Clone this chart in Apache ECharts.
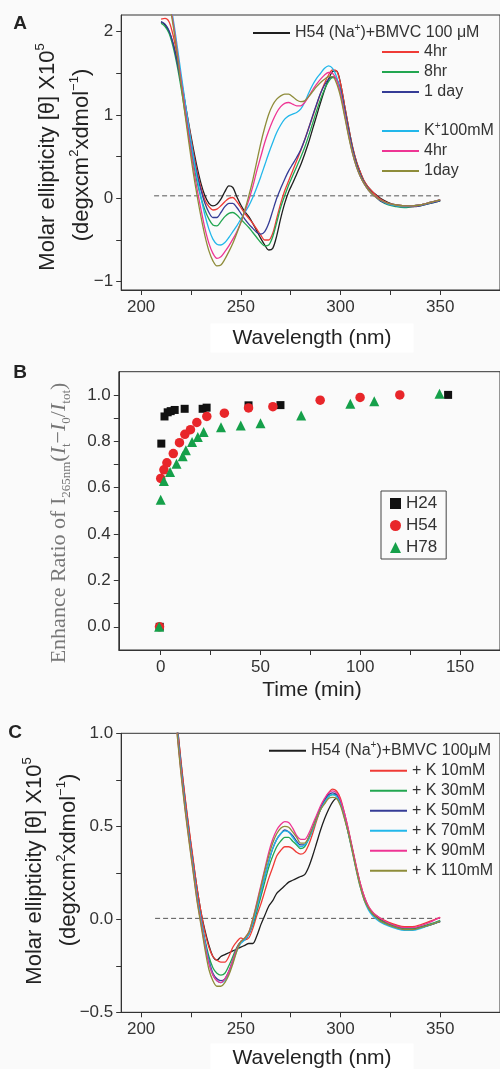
<!DOCTYPE html>
<html><head><meta charset="utf-8">
<script src="https://cdn.jsdelivr.net/npm/echarts@6/dist/echarts.min.js"></script>
<style>html,body{margin:0;padding:0;background:#fafafa}#c{width:500px;height:1069px}</style>
</head><body><div id="c"></div>
<script>
// ---------- Panel A : CD spectra (time course) ----------
const wlA = [210,212,214,216,218,220,222,224,226,228,230,232,234,236,238,240,242,244,246,248,250,252,254,256,258,260,262,264,266,268,270,272,274,276,278,280,282,284,286,288,290,292,294,296,298,300,302,304,306,308,310,312,314,316,318,320,324,328,332,336,340,345,350];
const aNa = [2.12,2.08,2.0,1.86,1.66,1.42,1.15,0.88,0.62,0.38, 0.18,0.03,-0.06,-0.09,-0.07,-0.01,0.08,0.15,0.13,0.02, -0.08,-0.16,-0.22,-0.3,-0.39,-0.48,-0.56,-0.62,-0.6,-0.45, -0.24,-0.06,0.08,0.18,0.29,0.4,0.53,0.67,0.83,0.99, 1.15,1.3,1.43,1.52,1.53,1.38,1.12,0.86,0.62,0.44, 0.31,0.2,0.13,0.08,0.04,0.0, -0.05,-0.08,-0.09,-0.09,-0.08,-0.05,-0.02];
const aNa4hr = [2.15,2.16,2.12,1.96,1.72,1.45,1.15,0.86,0.58,0.33, 0.13,-0.02,-0.1,-0.14,-0.13,-0.09,-0.04,0.0,0.01,-0.04, -0.11,-0.18,-0.24,-0.3,-0.37,-0.44,-0.5,-0.5,-0.42,-0.24, -0.06,0.09,0.21,0.33,0.45,0.57,0.7,0.84,0.98,1.12, 1.26,1.38,1.48,1.54,1.53,1.38,1.12,0.86,0.62,0.44, 0.31,0.2,0.13,0.08,0.03,-0.01, -0.06,-0.09,-0.1,-0.1,-0.08,-0.05,-0.02];
const aNa8hr = [2.1,2.06,1.98,1.82,1.6,1.33,1.03,0.73,0.45,0.2, 0.01,-0.14,-0.25,-0.32,-0.33,-0.28,-0.22,-0.18,-0.17,-0.2, -0.25,-0.3,-0.35,-0.41,-0.47,-0.53,-0.57,-0.56,-0.46,-0.29, -0.11,0.03,0.16,0.27,0.38,0.49,0.61,0.75,0.9,1.05, 1.19,1.31,1.4,1.45,1.43,1.3,1.07,0.82,0.59,0.41, 0.28,0.18,0.11,0.05,0.01,-0.03, -0.08,-0.1,-0.11,-0.1,-0.09,-0.06,-0.03];
const aNa1day = [2.12,2.09,2.01,1.86,1.64,1.38,1.09,0.8,0.53,0.29, 0.1,-0.06,-0.17,-0.23,-0.23,-0.17,-0.1,-0.06,-0.06,-0.11, -0.18,-0.25,-0.31,-0.36,-0.41,-0.43,-0.4,-0.3,-0.15,0.0, 0.12,0.23,0.33,0.41,0.49,0.58,0.7,0.84,0.99,1.13, 1.26,1.36,1.43,1.46,1.43,1.3,1.07,0.82,0.59,0.41, 0.28,0.18,0.11,0.05,0.01,-0.03, -0.07,-0.09,-0.1,-0.1,-0.09,-0.06,-0.03];
const aK = [2.5,2.45,2.38,2.16,1.84,1.5,1.17,0.84,0.53,0.25, 0.01,-0.2,-0.37,-0.49,-0.55,-0.56,-0.53,-0.47,-0.4,-0.33, -0.25,-0.17,-0.09,0.01,0.13,0.26,0.4,0.54,0.67,0.79, 0.88,0.95,0.99,1.01,1.03,1.07,1.15,1.26,1.36,1.44, 1.5,1.56,1.59,1.56,1.46,1.27,1.02,0.77,0.55,0.38, 0.26,0.17,0.1,0.05,0.01,-0.02, -0.07,-0.09,-0.1,-0.09,-0.08,-0.05,-0.02];
const aK4hr = [2.5,2.45,2.36,2.12,1.78,1.42,1.07,0.72,0.4,0.12, -0.13,-0.36,-0.54,-0.66,-0.72,-0.7,-0.64,-0.57,-0.49,-0.4, -0.29,-0.16,-0.02,0.14,0.33,0.5,0.67,0.81,0.93,1.03, 1.1,1.14,1.15,1.13,1.11,1.11,1.15,1.22,1.3,1.37, 1.43,1.48,1.51,1.5,1.42,1.26,1.02,0.77,0.55,0.38, 0.26,0.17,0.1,0.05,0.01,-0.02, -0.06,-0.08,-0.09,-0.09,-0.08,-0.05,-0.02];
const aK1day = [2.5,2.45,2.34,2.08,1.74,1.37,1.01,0.66,0.33,0.04, -0.22,-0.45,-0.63,-0.75,-0.81,-0.8,-0.73,-0.64,-0.54,-0.42, -0.29,-0.14,0.03,0.22,0.44,0.66,0.85,1.01,1.12,1.19, 1.23,1.25,1.25,1.22,1.18,1.16,1.17,1.22,1.28,1.34, 1.39,1.43,1.46,1.46,1.38,1.22,0.99,0.75,0.54,0.38, 0.26,0.17,0.1,0.05,0.01,-0.02, -0.06,-0.08,-0.09,-0.09,-0.08,-0.05,-0.02];
const zeroA = [[206.5,0.03],[350,0.03]];

// ---------- Panel B : enhancement ratio vs time ----------
const bH24 = [[-0.5,0],[0.3,0.79],[1.9,0.907],[3.5,0.925],[5,0.93],[7,0.935],[12,0.94],[21,0.94],[23,0.945],[44,0.955],[60,0.956],[144,1.0]];
const bH54 = [[-0.6,0],[0,0.64],[1.6,0.677],[3.1,0.707],[6.3,0.747],[9.4,0.794],[12.1,0.83],[14.9,0.85],[18.1,0.881],[23.1,0.907],[31.9,0.921],[44,0.944],[56.2,0.949],[79.9,0.977],[99.9,0.989],[119.8,1.0]];
const bH78 = [[-0.8,0],[0,0.548],[1.6,0.629],[4.7,0.667],[7.9,0.703],[11,0.735],[12.6,0.761],[15.7,0.797],[18.6,0.818],[21.5,0.84],[30.2,0.861],[40.1,0.868],[50,0.878],[70.4,0.911],[95,0.962],[107,0.973],[139.7,1.005]];

// ---------- Panel C : CD spectra (K+ titration) ----------
const wlC = [214,216,218,220,222,224,226,228,230,232,234,236,238,240,242,244,246,248,250,252,254,256,258,260,262,264,266,268,270,272,274,276,278,280,282,284,286,288,290,292,294,296,298,300,302,304,306,308,310,312,314,316,318,320,324,328,332,336,340,345,350];
const cNa = [1.6,1.32,1.06,0.84,0.65,0.48,0.32,0.17,0.04,-0.06, -0.14,-0.2,-0.22,-0.2,-0.19,-0.18,-0.17,-0.16,-0.15,-0.14, -0.13,-0.13,-0.09,-0.03,0.02,0.07,0.1,0.14,0.16,0.18, 0.2,0.21,0.22,0.23,0.24,0.28,0.34,0.41,0.48,0.54, 0.59,0.63,0.65,0.62,0.55,0.46,0.37,0.27,0.18,0.11, 0.06,0.03,0.015,0.0, -0.02,-0.035,-0.048,-0.052,-0.045,-0.03,-0.012];
const cK10 = [1.55,1.3,1.06,0.85,0.66,0.49,0.33,0.17,0.04,-0.07, -0.15,-0.2,-0.22,-0.23,-0.23,-0.2,-0.15,-0.12,-0.1,-0.11, -0.1,-0.05,0.02,0.08,0.15,0.22,0.28,0.34,0.37,0.39, 0.39,0.38,0.36,0.35,0.36,0.4,0.46,0.53,0.59,0.64, 0.68,0.7,0.69,0.65,0.57,0.48,0.38,0.28,0.19,0.12, 0.07,0.04,0.02,0.005, -0.015,-0.03,-0.04,-0.04,-0.03,-0.01,0.01];
const cK30 = [1.52,1.27,1.03,0.81,0.62,0.45,0.29,0.13,0.0,-0.11, -0.2,-0.26,-0.29,-0.3,-0.29,-0.25,-0.2,-0.15,-0.12,-0.11, -0.08,-0.03,0.04,0.12,0.2,0.28,0.34,0.39,0.42,0.44, 0.44,0.42,0.4,0.38,0.39,0.43,0.48,0.54,0.59,0.63, 0.66,0.67,0.67,0.63,0.56,0.47,0.37,0.27,0.18,0.11, 0.06,0.03,0.01,-0.005, -0.025,-0.04,-0.05,-0.05,-0.04,-0.025,-0.005];
const cK50 = [1.52,1.27,1.03,0.81,0.62,0.45,0.29,0.13,0.0,-0.12, -0.22,-0.29,-0.32,-0.33,-0.32,-0.28,-0.22,-0.16,-0.12,-0.11, -0.08,-0.02,0.06,0.14,0.23,0.31,0.38,0.43,0.46,0.48, 0.47,0.45,0.42,0.4,0.4,0.44,0.49,0.55,0.6,0.64, 0.67,0.68,0.67,0.63,0.56,0.47,0.37,0.27,0.18,0.11, 0.06,0.03,0.01,-0.01, -0.03,-0.045,-0.055,-0.055,-0.045,-0.03,-0.01];
const cK70 = [1.52,1.27,1.03,0.81,0.62,0.45,0.29,0.13,0.0,-0.12, -0.23,-0.3,-0.33,-0.34,-0.33,-0.29,-0.23,-0.17,-0.13,-0.11, -0.08,-0.02,0.06,0.14,0.23,0.31,0.38,0.43,0.46,0.475, 0.47,0.44,0.41,0.39,0.4,0.43,0.48,0.54,0.59,0.63, 0.66,0.67,0.66,0.62,0.55,0.46,0.36,0.26,0.17,0.1, 0.05,0.02,0.0,-0.015, -0.035,-0.05,-0.06,-0.06,-0.05,-0.03,-0.01];
const cK90 = [1.5,1.25,1.01,0.79,0.6,0.43,0.27,0.11,-0.02,-0.14, -0.24,-0.3,-0.33,-0.34,-0.32,-0.28,-0.22,-0.16,-0.12,-0.1, -0.07,0.0,0.09,0.18,0.27,0.36,0.43,0.48,0.51,0.525, 0.52,0.49,0.45,0.43,0.43,0.46,0.51,0.56,0.61,0.65, 0.68,0.69,0.68,0.64,0.57,0.48,0.38,0.28,0.19,0.12, 0.07,0.04,0.02,0.005, -0.02,-0.035,-0.045,-0.045,-0.035,-0.015,0.01];
const cK110 = [1.5,1.25,1.0,0.78,0.59,0.42,0.26,0.1,-0.03,-0.16, -0.27,-0.33,-0.36,-0.36,-0.34,-0.3,-0.24,-0.17,-0.12,-0.1, -0.07,0.0,0.08,0.17,0.26,0.34,0.41,0.46,0.49,0.5, 0.495,0.47,0.44,0.41,0.41,0.44,0.49,0.54,0.59,0.62, 0.65,0.655,0.65,0.61,0.54,0.46,0.36,0.26,0.17,0.1, 0.06,0.03,0.01,-0.01, -0.03,-0.045,-0.055,-0.055,-0.045,-0.03,-0.01];
const zeroC = [[207,0.005],[350,0.005]];

// ---------- tick values ----------
const wlLabels = [200,250,300,350];
const wlTicks = [200,225,250,275,300,325,350];
const aYLabels = [-1,0,1,2];
const aYTicks = [-1,-0.5,0,0.5,1,1.5,2];
const bXLabels = [0,50,100,150];
const bXTicks = [0,25,50,75,100,125,150];
const bYLabels = [0,0.2,0.4,0.6,0.8,1.0];
const bYTicks = [0,0.1,0.2,0.3,0.4,0.5,0.6,0.7,0.8,0.9,1.0];
const cYLabels = [-0.5,0,0.5,1.0];
const cYTicks = [-0.5,-0.25,0,0.25,0.5,0.75,1.0];

// ---------- legend texts ----------
const legendText = {
  na: 'H54 (Na{sup|+})+BMVC 100 μM', na4: '4hr', na8: '8hr', na1d: '1 day',
  k: 'K{sup|+}100mM', k4: '4hr', k1d: '1day',
  cna: 'H54 (Na{sup|+})+BMVC 100μM', c10: '+ K 10mM', c30: '+ K 30mM', c50: '+ K 50mM',
  c70: '+ K 70mM', c90: '+ K 90mM', c110: '+ K 110mM'
};

const FONT = '"Liberation Sans", Arial, sans-serif';
const SERIF = '"Liberation Serif", "Times New Roman", serif';
const C = {black:'#1e1e1e', red:'#ef3b36', green:'#22a650', blue:'#353c96', cyan:'#22b7ea', magenta:'#ee3594', olive:'#8e8c3a'};
const mfmt = s => s.replace('-', '\u2212');
const pairs = (xs, ys) => xs.map((x, i) => [x, ys[i]]);

function xAxis(gi, min, max, labels, ticks) {
  return {type:'value', gridIndex:gi, min, max, splitLine:{show:false},
    axisLine:{show:true, onZero:false, lineStyle:{color:'#333', width:1}},
    axisTick:{show:true, length:5, customValues:ticks, lineStyle:{color:'#333', width:1}},
    axisLabel:{customValues:labels, fontSize:17, color:'#333', fontFamily:FONT, margin:9,
      formatter: v => mfmt(String(v))}};
}
function yAxis(gi, min, max, labels, ticks, dec) {
  return {type:'value', gridIndex:gi, min, max, splitLine:{show:false},
    axisLine:{show:true, onZero:false, lineStyle:{color:'#333', width:1}},
    axisTick:{show:true, length:5, customValues:ticks, lineStyle:{color:'#333', width:1}},
    axisLabel:{customValues:labels, fontSize:17, color:'#333', fontFamily:FONT, margin:8,
      formatter: v => mfmt(Number(v).toFixed(dec))}};
}
function lineS(name, xi, xs, ys, color) {
  return {type:'line', name, xAxisIndex:xi, yAxisIndex:xi, data:pairs(xs, ys), symbol:'none', showSymbol:false,
    smooth:0.3, clip:true, lineStyle:{color, width:1.3}, itemStyle:{color}, animation:false};
}
function dashS(xi, data) {
  return {type:'line', xAxisIndex:xi, yAxisIndex:xi, data, symbol:'none', silent:true, clip:true,
    lineStyle:{color:'#555', width:1, type:[5,3]}, animation:false};
}
const legTS = {fontSize:16, color:'#333', fontFamily:FONT, lineHeight:20,
  rich:{sup:{fontSize:10, lineHeight:20, verticalAlign:'top', fontFamily:FONT, color:'#333'}}};
function legLine(names, left, top) {
  return {data:names, left, top, orient:'vertical', icon:'rect', itemWidth:37, itemHeight:2, itemGap:0,
    padding:0, selectedMode:false, formatter: n => legendText[n], textStyle:legTS};
}

const supRich = {
  m:{fontSize:22, fontFamily:FONT, fill:'#222', lineHeight:28},
  s:{fontSize:13, fontFamily:FONT, fill:'#222', lineHeight:28, verticalAlign:'top'}
};
const ylab1 = '{m|Molar ellipticity [θ] X10}{s|5}';
const ylab2 = '{m|(degxcm}{s|2}{m|xdmol}{s|\u22121}{m|)}';
const bRich = {
  r:{fontSize:22, fontFamily:SERIF, fill:'#777', lineHeight:28},
  i:{fontSize:22, fontFamily:SERIF, fontStyle:'italic', fill:'#777', lineHeight:28},
  b:{fontSize:13, fontFamily:SERIF, fill:'#777', lineHeight:28, verticalAlign:'bottom'}
};
const bLab = '{r|Enhance Ratio of I}{b|265nm}{r|(}{i|I}{b|t}{r|\u2212}{i|I}{b|0}{r|/}{i|I}{b|tot}{r|)}';

function rotText(x, y, text, rich) {
  return {type:'text', x, y, rotation:Math.PI/2, silent:true,
    style:{text, rich, align:'center', verticalAlign:'middle'}};
}
function plainText(x, y, text, size, bold, bg) {
  const st = {text, fontSize:size, fontFamily:FONT, fontWeight: bold ? 'bold' : 'normal', fill:'#222',
    align:'center', verticalAlign:'middle'};
  if (bg) { st.backgroundColor = '#ffffff'; st.padding = [4, 22, 4, 22]; }
  return {type:'text', x, y, silent:true, style:st};
}

const chart = echarts.init(document.getElementById('c'), null, {renderer:'canvas', width:500, height:1069});
chart.setOption({
  backgroundColor:'#fafafa',
  animation:false,
  grid:[
    {left:121.2, top:15, width:400, height:275, show:true, borderColor:'#333', borderWidth:1},
    {left:118.8, top:371.7, width:405, height:278.3, show:true, borderColor:'#333', borderWidth:1},
    {left:121.2, top:733.3, width:400, height:279, show:true, borderColor:'#333', borderWidth:1}
  ],
  xAxis:[
    xAxis(0, 190, 380, wlLabels, wlTicks),
    xAxis(1, -21, 170, bXLabels, bXTicks),
    xAxis(2, 190, 380, wlLabels, wlTicks)
  ],
  yAxis:[
    yAxis(0, -1.1, 2.2, aYLabels, aYTicks, 0),
    yAxis(1, -0.1, 1.1, bYLabels, bYTicks, 1),
    yAxis(2, -0.5, 1.0, cYLabels, cYTicks, 1)
  ],
  legend:[
    legLine(['na'], 253, 23),
    legLine(['na4','na8','na1d'], 382, 42),
    legLine(['k','k4','k1d'], 382, 121),
    {data:['H24','H54','H78'], left:381, top:491, orient:'vertical', itemWidth:11, itemHeight:11, itemGap:5,
      padding:[4,9,3,9], borderColor:'#444', borderWidth:1, borderRadius:0, selectedMode:false,
      textStyle:{fontSize:17, color:'#333', fontFamily:FONT, lineHeight:17}},
    legLine(['cna'], 269, 740.7),
    legLine(['c10','c30','c50','c70','c90','c110'], 370, 760.7)
  ],
  graphic:[
    plainText(20, 24, 'A', 19, true),
    plainText(20, 373, 'B', 19, true),
    plainText(15, 733, 'C', 19, true),
    rotText(48, 157, ylab1, supRich),
    rotText(82, 155, ylab2, supRich),
    plainText(312, 338, 'Wavelength (nm)', 21, false, true),
    rotText(59, 523, bLab, bRich),
    plainText(312, 690, 'Time (min)', 21, false),
    rotText(35, 871, ylab1, supRich),
    rotText(69, 860, ylab2, supRich),
    plainText(312, 1058, 'Wavelength (nm)', 21, false, true)
  ],
  series:[
    dashS(0, zeroA),
    lineS('na', 0, wlA, aNa, C.black),
    lineS('na4', 0, wlA, aNa4hr, C.red),
    lineS('na8', 0, wlA, aNa8hr, C.green),
    lineS('na1d', 0, wlA, aNa1day, C.blue),
    lineS('k', 0, wlA, aK, C.cyan),
    lineS('k4', 0, wlA, aK4hr, C.magenta),
    lineS('k1d', 0, wlA, aK1day, C.olive),
    {type:'scatter', name:'H24', xAxisIndex:1, yAxisIndex:1, data:bH24, symbol:'rect', symbolSize:8, itemStyle:{color:'#111', opacity:1}, animation:false},
    {type:'scatter', name:'H54', xAxisIndex:1, yAxisIndex:1, data:bH54, symbol:'circle', symbolSize:9.5, itemStyle:{color:'#e8262a', opacity:1}, animation:false},
    {type:'scatter', name:'H78', xAxisIndex:1, yAxisIndex:1, data:bH78, symbol:'triangle', symbolSize:10, itemStyle:{color:'#15a04a', opacity:1}, animation:false},
    dashS(2, zeroC),
    lineS('cna', 2, wlC, cNa, C.black),
    lineS('c10', 2, wlC, cK10, C.red),
    lineS('c30', 2, wlC, cK30, C.green),
    lineS('c50', 2, wlC, cK50, C.blue),
    lineS('c70', 2, wlC, cK70, C.cyan),
    lineS('c90', 2, wlC, cK90, C.magenta),
    lineS('c110', 2, wlC, cK110, C.olive)
  ]
});
</script></body></html>
